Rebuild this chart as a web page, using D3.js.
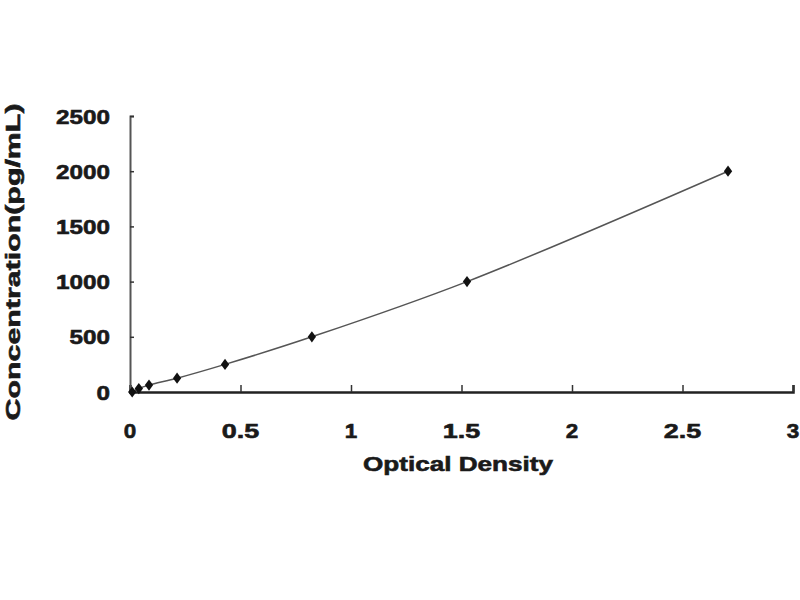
<!DOCTYPE html>
<html>
<head>
<meta charset="utf-8">
<script src="https://cdn.jsdelivr.net/npm/d3@7"></script>
<style>
  body { margin: 0; background: #fff; }
  text { font-family: "Liberation Sans", Arial, sans-serif; font-weight: bold; fill: #1a1a1a; stroke: #1a1a1a; stroke-width: 0.6; }
</style>
</head>
<body>
<div id="chart"></div>
<script>
// standard curve points
const od = [0.01, 0.04, 0.086, 0.213, 0.43, 0.823, 1.525, 2.706];
const conc = [0, 31.25, 62.5, 125, 250, 500, 1000, 2000];
const xTicks = [0, 0.5, 1, 1.5, 2, 2.5, 3];
const yTicks = [0, 500, 1000, 1500, 2000, 2500];

const width = 800, height = 600;
const plotLeft = 130, plotRight = 793, plotTop = 116, plotBottom = 392;

const svg = d3.select("#chart").append("svg")
    .attr("width", width)
    .attr("height", height);

const x = d3.scaleLinear().domain([0, 3]).range([plotLeft, plotRight]);
const y = d3.scaleLinear().domain([0, 2500]).range([plotBottom, plotTop]);

// axes, ticks point inward
const xAxis = svg.append("g")
    .attr("transform", `translate(0,${plotBottom})`)
    .call(d3.axisBottom(x).tickValues(xTicks).tickSize(-7).tickFormat(""));
const yAxis = svg.append("g")
    .attr("transform", `translate(${plotLeft},0)`)
    .call(d3.axisLeft(y).tickValues(yTicks).tickSize(-4).tickFormat(""));
xAxis.select(".domain").attr("stroke", "#222").attr("stroke-width", 2.5);
yAxis.select(".domain").attr("stroke", "#555").attr("stroke-width", 2);
svg.selectAll(".tick line").attr("stroke", "#333").attr("stroke-width", 1.5);

// tick labels (wide bold digits)
svg.selectAll(".xlab").data(xTicks).enter().append("text")
    .attr("x", d => x(d))
    .attr("y", 438)
    .attr("text-anchor", "middle")
    .attr("font-size", 21)
    .attr("textLength", d => String(d).length * 12.5)
    .attr("lengthAdjust", "spacingAndGlyphs")
    .text(d => d);

svg.selectAll(".ylab").data(yTicks).enter().append("text")
    .attr("x", 110)
    .attr("y", d => y(d) + 7.5)
    .attr("text-anchor", "end")
    .attr("font-size", 21)
    .attr("textLength", d => String(d).length * 13.5)
    .attr("lengthAdjust", "spacingAndGlyphs")
    .text(d => d);

// axis titles
svg.append("text")
    .attr("x", 458)
    .attr("y", 471)
    .attr("text-anchor", "middle")
    .attr("font-size", 21)
    .attr("textLength", 190)
    .attr("lengthAdjust", "spacingAndGlyphs")
    .text("Optical Density");

svg.append("text")
    .attr("transform", "translate(20,262) rotate(-90)")
    .attr("text-anchor", "middle")
    .attr("font-size", 20)
    .attr("textLength", 317)
    .attr("lengthAdjust", "spacingAndGlyphs")
    .text("Concentration(pg/mL)");

// smoothed line
const pts = od.map((d, i) => [d, conc[i]]);
svg.append("path")
    .datum(pts)
    .attr("fill", "none")
    .attr("stroke", "#555")
    .attr("stroke-width", 1.5)
    .attr("d", d3.line().x(d => x(d[0])).y(d => y(d[1])).curve(d3.curveCatmullRom));

// diamond markers
svg.selectAll(".pt").data(pts).enter().append("path")
    .attr("transform", d => `translate(${x(d[0])},${y(d[1])}) scale(1.15,0.9)`)
    .attr("d", d3.symbol().type(d3.symbolDiamond).size(45))
    .attr("fill", "#111");
</script>
</body>
</html>
